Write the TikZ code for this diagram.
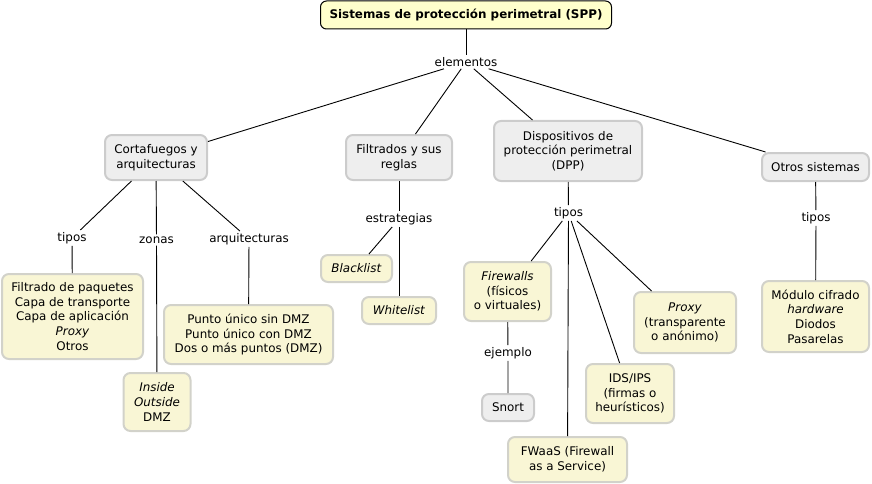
\documentclass[tikz,border=0pt]{standalone}
\usepackage{fontspec}
\setmainfont{DejaVu Sans}
\usepackage{tikz}
\usepackage{xcolor}
\definecolor{rootfill}{HTML}{FFFFCC}
\definecolor{grayfill}{HTML}{EEEEEE}
\definecolor{grayline}{HTML}{CCCCCC}
\definecolor{leaffill}{HTML}{F9F6D5}
\definecolor{leafline}{HTML}{D2D2CA}

\begin{document}
\begin{tikzpicture}[x=1pt, y=-1pt,
        every node/.style={font=\fontsize{11.9}{14.7}\selectfont, align=center},
        concept/.style={draw=grayline, fill=grayfill, line width=2pt, rounded corners=7pt, inner sep=0pt},
        leaf/.style={draw=leafline, fill=leaffill, line width=2pt, rounded corners=7pt, inner sep=0pt},
        phrase/.style={inner sep=2pt},
        link/.style={line width=0.9pt}]
        \useasboundingbox (0,0) rectangle (872,484);
        % root
        \node (spp) [draw, fill=rootfill, line width=1pt, rounded corners=6pt, minimum width=291pt, minimum height=28pt, font=\fontsize{11.9}{14.7}\selectfont\bfseries] at (466,15) {Sistemas de protección perimetral (SPP)};
        \node (elem) [phrase] at (466,62) {elementos};
        % main concepts
        \node (cort) [concept, minimum width=102pt, minimum height=45pt] at (156,157.5) {Cortafuegos y\\arquitecturas};
        \node (filt) [concept, minimum width=106pt, minimum height=45pt] at (399,157.5) {Filtrados y sus\\reglas};
        \node (dpp) [concept, minimum width=148pt, minimum height=60pt] at (568,151) {Dispositivos de\\protección perimetral\\(DPP)};
        \node (otros) [concept, minimum width=107pt, minimum height=28pt] at (815.5,167) {Otros sistemas};
        % linking phrases
        \node (tiposc) [phrase] at (72,238) {tipos};
        \node (zonas) [phrase] at (156.5,240) {zonas};
        \node (arq) [phrase] at (249,239) {arquitecturas};
        \node (estr) [phrase] at (399,219) {estrategias};
        \node (tiposd) [phrase] at (568.5,213) {tipos};
        \node (tiposo) [phrase] at (816,218) {tipos};
        \node (ejem) [phrase] at (508,353) {ejemplo};
        % leaves
        \node (filtrado) [leaf, minimum width=141pt, minimum height=85pt] at (72.5,316.5) {Filtrado de paquetes\\Capa de transporte\\Capa de aplicación\\\textit{Proxy}\\Otros};
        \node (inside) [leaf, minimum width=67pt, minimum height=58pt] at (157,402) {\textit{Inside}\\\textit{Outside}\\DMZ};
        \node (punto) [leaf, minimum width=169pt, minimum height=59pt] at (248.5,334.5) {Punto único sin DMZ\\Punto único con DMZ\\Dos o más puntos (DMZ)};
        \node (black) [leaf, minimum width=71pt, minimum height=27pt] at (356.5,268.5) {\textit{Blacklist}};
        \node (white) [leaf, minimum width=74pt, minimum height=27pt] at (399,310.5) {\textit{Whitelist}};
        \node (firew) [leaf, minimum width=87pt, minimum height=59pt] at (507.5,291.5) {\textit{Firewalls}\\(físicos\\o virtuales)};
        \node (snort) [concept, minimum width=52pt, minimum height=27pt] at (508,407.5) {Snort};
        \node (fwaas) [leaf, minimum width=119pt, minimum height=45pt] at (567.5,459.5) {FWaaS (Firewall\\as a Service)};
        \node (ids) [leaf, minimum width=88pt, minimum height=59pt] at (630,393.5) {IDS/IPS\\(firmas o\\heurísticos)};
        \node (proxy) [leaf, minimum width=102pt, minimum height=61pt] at (685,322.5) {\textit{Proxy}\\(transparente\\o anónimo)};
        \node (modulo) [leaf, minimum width=107pt, minimum height=71pt] at (815.5,316.5) {Módulo cifrado\\\textit{hardware}\\Diodos\\Pasarelas};
        % links
        \draw [link] (spp) -- (elem);
        \foreach \c in {cort, filt, dpp, otros}
            \draw [link] (elem) -- (\c);
        \draw [link] (cort) -- (tiposc) -- (filtrado);
        \draw [link] (cort) -- (zonas) -- (inside);
        \draw [link] (cort) -- (arq) -- (punto);
        \draw [link] (filt) -- (estr);
        \draw [link] (estr) -- (black);
        \draw [link] (estr) -- (white);
        \draw [link] (dpp) -- (tiposd);
        \foreach \c in {firew, fwaas, ids, proxy}
            \draw [link] (tiposd) -- (\c);
        \draw [link] (firew) -- (ejem) -- (snort);
        \draw [link] (otros) -- (tiposo) -- (modulo);
\end{tikzpicture}
\end{document}
